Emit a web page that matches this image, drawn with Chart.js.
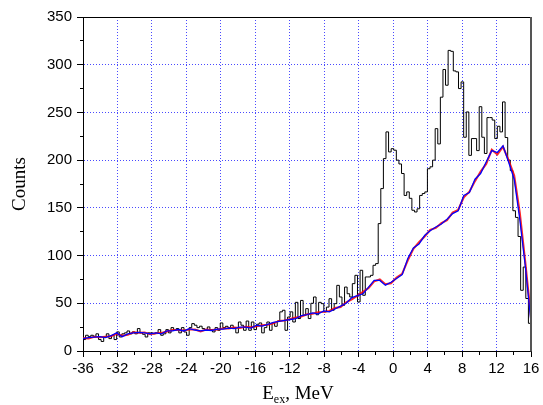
<!DOCTYPE html>
<html><head><meta charset="utf-8">
<script src="https://cdn.jsdelivr.net/npm/chart.js@4.4.0/dist/chart.umd.min.js"></script>
<style>html,body{margin:0;padding:0;background:#fff}#wrap{width:543px;height:405px;position:relative}</style>
</head><body><div id="wrap"><canvas id="c"></canvas></div>
<script>
// ---- data ----
const binStart = -36;
const binWidth = 52 / 173;
const counts = [
  12, 16.5, 15, 16.5, 15.4, 18, 12, 10, 14.7, 18,
  13, 16.5, 12, 20, 14.7, 18, 19, 21, 18, 20,
  18, 23.5, 19, 17.5, 14.7, 19, 19, 18, 19, 22.4,
  16.5, 18, 22.4, 19, 24.5, 21.7, 23.5, 19, 24.5, 19.9,
  16.5, 24.5, 28.7, 27, 24.5, 26, 23.5, 21.7, 25.2, 22.4,
  20, 24.5, 21.7, 29.4, 24.5, 25.9, 24.5, 27, 24.5, 19,
  30.4, 27, 21.7, 31.4, 21.7, 30.4, 22.4, 28, 29.4, 19,
  24.5, 30.4, 21.7, 29.4, 25.9, 31.4, 41, 42.7, 21.7, 35.6,
  41, 30.4, 51, 34, 53, 37.4, 44.4, 34, 50, 56.6,
  38, 51, 49.6, 41, 46, 54.8, 42.7, 49.6, 68.8, 56.6,
  47.8, 67, 60, 56.6, 70.6, 79.3, 51.4, 84.6, 58.4, 77.6,
  77.6, 79.3, 89.8, 91.6, 133.5, 170.2, 201.6, 229.6, 208.6, 212,
  210.4, 200, 196, 186, 163, 166.7, 160, 147.5, 145.7, 149,
  163, 165, 166.7, 191, 193, 200, 233, 217, 266, 295,
  278.5, 315, 314, 293.5, 292.5, 275, 282, 224, 250.5, 205,
  222.6, 222.6, 210, 256, 224, 207, 244.6, 244.6, 242, 222.6,
  235.5, 229.6, 261, 223.7, 200, 189, 147, 140, 120, 63.6,
  88, 55, 29, 11
];
const fitStart = -36;
const fitStep = 0.65;
const fitBlue = [
  13, 14, 14.5, 15, 14, 16, 19, 15, 18, 19,
  19.5, 19, 18, 19, 18, 21, 21, 22.5, 21, 23.5,
  22, 21, 22, 21.5, 23, 23, 24, 23.5, 25, 25,
  24, 27, 26, 28, 30, 31, 32, 33, 34, 37,
  38, 40, 39, 42, 41, 44, 47, 50, 56, 58,
  60, 67, 74, 74, 69, 72, 76, 80, 97, 108,
  112, 121, 126, 130, 133, 138, 144, 147, 163, 166,
  180, 186, 198, 210, 208, 215, 198, 180, 138, 88,
  30
];
const fitRed = [
  13.5, 13, 15, 14.5, 15, 15.5, 18, 16, 17, 19.5,
  19, 19.5, 17.5, 18.5, 19, 20.5, 22, 22, 21.5, 22.5,
  22.5, 20.5, 22.5, 22, 22.5, 23.5, 23.5, 24.5, 24, 25.5,
  25, 26, 27, 27.5, 29, 31.5, 32, 33.5, 35, 36,
  38.5, 39, 40.5, 41, 42, 45, 46, 51, 54, 58,
  62, 66, 73, 75, 70, 71, 77, 81, 95, 107,
  114, 120, 127, 129, 134, 137, 145, 148, 161, 167,
  178, 188, 196, 211, 206, 214, 200, 184, 145, 92,
  35
];
const xMin = -36, xMax = 16, xMinor = 2, xMajor = 4;
const yMin = 0, yMax = 350, yMinor = 25, yMajor = 50;
const yTitle = 'Counts';
const xTitleMain = 'E', xTitleSub = 'ex', xTitleRest = ', MeV';

// ---- build ----
const histPts = counts.map((v, i) => ({x: binStart + i * binWidth, y: v}));
histPts.push({x: binStart + counts.length * binWidth, y: counts[counts.length - 1]});
const bluePts = fitBlue.map((v, i) => ({x: fitStart + i * fitStep, y: v}));
const redPts = fitRed.map((v, i) => ({x: fitStart + i * fitStep, y: v}));

const gridBlue = '#4a4aff';
const isMajorX = v => Math.abs(v % xMajor) < 1e-9;
const isMajorY = v => Math.abs(v % yMajor) < 1e-9;

const framePlugin = {
  id: 'frameTitles',
  afterDraw(chart) {
    const ctx = chart.ctx, a = chart.chartArea;
    ctx.save();
    ctx.strokeStyle = '#000'; ctx.lineWidth = 1;
    ctx.beginPath(); ctx.moveTo(a.left, Math.round(a.top) + 0.5); ctx.lineTo(a.right, Math.round(a.top) + 0.5); ctx.stroke();
    ctx.strokeStyle = '#555'; ctx.lineWidth = 2;
    ctx.beginPath(); ctx.moveTo(Math.round(a.right), a.top); ctx.lineTo(Math.round(a.right), a.bottom + 0.5); ctx.stroke();
    ctx.fillStyle = '#000';
    ctx.font = '19px "Liberation Serif", "Times New Roman", serif';
    ctx.translate(20, (a.top + a.bottom) / 2);
    ctx.rotate(-Math.PI / 2);
    ctx.textAlign = 'center'; ctx.textBaseline = 'middle';
    ctx.fillText(yTitle, 0, 0);
    ctx.restore();

    ctx.save();
    ctx.fillStyle = '#000';
    ctx.textBaseline = 'alphabetic'; ctx.textAlign = 'left';
    const big = '19px "Liberation Serif", "Times New Roman", serif';
    const small = '12px "Liberation Serif", "Times New Roman", serif';
    ctx.font = big; const w1 = ctx.measureText(xTitleMain).width; const w3 = ctx.measureText(xTitleRest).width;
    ctx.font = small; const w2 = ctx.measureText(xTitleSub).width;
    const total = w1 + w2 + w3;
    const cx = (a.left + a.right) / 2 - 9;
    let x = cx - total / 2;
    const base = 399;
    ctx.font = big; ctx.fillText(xTitleMain, x, base); x += w1;
    ctx.font = small; ctx.fillText(xTitleSub, x, base + 4); x += w2;
    ctx.font = big; ctx.fillText(xTitleRest, x, base);
    ctx.restore();
  }
};

const tickFont = {family: '"Liberation Sans", Arial, sans-serif', size: 15};

new Chart(document.getElementById('c'), {
  type: 'line',
  data: {
    datasets: [
      {data: bluePts, borderColor: '#0000ff', borderWidth: 1.3, pointRadius: 0, tension: 0, fill: false},
      {data: redPts, borderColor: 'rgba(255,0,0,0.85)', borderWidth: 2, pointRadius: 0, tension: 0, fill: false},
      {data: histPts, borderColor: '#000', borderWidth: 1, pointRadius: 0, stepped: 'before', fill: false}
    ]
  },
  options: {
    responsive: true, maintainAspectRatio: false, animation: false,
    layout: {padding: {left: 0, right: 12, top: 17, bottom: 0}},
    plugins: {legend: {display: false}, tooltip: {enabled: false}},
    scales: {
      x: {
        type: 'linear', min: xMin, max: xMax,
        afterFit: s => { s.height = 54; },
        ticks: {stepSize: xMinor, autoSkip: false, maxRotation: 0, padding: 3, color: '#000', font: tickFont,
          callback: v => isMajorX(v) ? String(v) : ''},
        grid: {
          color: c => (c.tick && isMajorX(c.tick.value) && c.tick.value !== xMin && c.tick.value !== xMax) ? gridBlue : 'rgba(0,0,0,0)',
          lineWidth: 1, tickLength: 6, tickColor: '#000', tickWidth: 1,
          tickBorderDash: c => (c.tick && !isMajorX(c.tick.value)) ? [3, 20] : []
        },
        border: {display: true, color: '#000', width: 1, dash: [1, 2]}
      },
      y: {
        type: 'linear', min: yMin, max: yMax,
        afterFit: s => { s.width = 83; },
        ticks: {stepSize: yMinor, autoSkip: false, padding: 5, color: '#000', font: tickFont,
          callback: v => isMajorY(v) ? String(v) : ''},
        grid: {
          color: c => (c.tick && isMajorY(c.tick.value) && c.tick.value !== yMin && c.tick.value !== yMax) ? gridBlue : 'rgba(0,0,0,0)',
          lineWidth: 1, tickLength: 6, tickColor: '#000', tickWidth: 1,
          tickBorderDash: c => (c.tick && !isMajorY(c.tick.value)) ? [0, 3, 3, 20] : []
        },
        border: {display: true, color: '#000', width: 1, dash: [1, 2]}
      }
    }
  },
  plugins: [framePlugin]
});
</script>
</body></html>
